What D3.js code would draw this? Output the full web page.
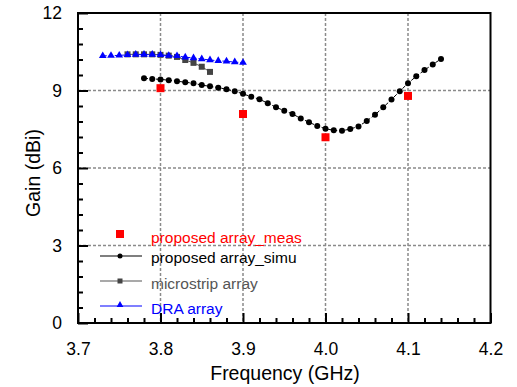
<!DOCTYPE html>
<html><head><meta charset="utf-8">
<script src="https://cdn.jsdelivr.net/npm/d3@7"></script>
<style>body{margin:0;background:#fff}svg{display:block}text{font-family:"Liberation Sans",Arial,sans-serif}</style>
</head><body><svg id="c" width="517" height="387"></svg>
<script>
const xTicks = [3.7, 3.8, 3.9, 4.0, 4.1, 4.2];
const yTicks = [0, 3, 6, 9, 12];
const measFreq = [3.8, 3.9, 4.0, 4.1];
const measGain = [9.09, 8.09, 7.19, 8.79];
const simuFreq = [3.78,3.79,3.80,3.81,3.82,3.83,3.84,3.85,3.86,3.87,3.88,3.89,3.90,3.91,3.92,3.93,3.94,3.95,3.96,3.97,3.98,3.99,4.00,4.01,4.02,4.03,4.04,4.05,4.06,4.07,4.08,4.09,4.10,4.11,4.12,4.13,4.14];
const simuGain = [9.47,9.45,9.43,9.40,9.36,9.32,9.28,9.21,9.16,9.11,9.05,8.97,8.87,8.76,8.66,8.51,8.35,8.22,8.09,7.92,7.77,7.63,7.52,7.46,7.44,7.51,7.61,7.82,8.06,8.35,8.65,8.97,9.28,9.55,9.79,10.01,10.22];
const microFreq = [3.76,3.77,3.78,3.79,3.80,3.81,3.82,3.83,3.84,3.85,3.86];
const microGain = [10.40,10.40,10.40,10.40,10.38,10.35,10.30,10.18,10.07,9.92,9.72];
const draFreq = [3.73,3.74,3.75,3.76,3.77,3.78,3.79,3.80,3.81,3.82,3.83,3.84,3.85,3.86,3.87,3.88,3.89,3.90];
const draGain = [10.34,10.35,10.36,10.38,10.39,10.39,10.39,10.38,10.35,10.34,10.29,10.26,10.22,10.18,10.15,10.13,10.10,10.08];
const seriesNames = ["proposed array_meas","proposed array_simu","microstrip array","DRA array"];

const svg = d3.select("#c");
const L=78,R=490.5,T=13,B=323;
const x = d3.scaleLinear().domain([3.7,4.2]).range([L,R]);
const y = d3.scaleLinear().domain([0,12]).range([B,T]);

// grid
const g = svg.append("g");
[3.8,3.9,4.0,4.1].forEach(v=>g.append("line").attr("x1",x(v)).attr("x2",x(v)).attr("y1",T).attr("y2",B)
  .attr("stroke","#8a8a8a").attr("stroke-width",1.5).attr("stroke-dasharray","3,2"));
[3,6,9].forEach(v=>g.append("line").attr("x1",L).attr("x2",R).attr("y1",y(v)).attr("y2",y(v))
  .attr("stroke","#8a8a8a").attr("stroke-width",1.5).attr("stroke-dasharray","3,2"));

// axes
const xMinor = d3.range(3.72,4.2,0.02).filter(v=>Math.abs(Math.round(v*10)-v*10)>1e-6);
const xa = svg.append("g").attr("transform",`translate(0,${B})`);
xa.call(d3.axisBottom(x).tickValues(xTicks).tickFormat(d3.format(".1f")).tickSizeInner(-10).tickSizeOuter(0).tickPadding(20));
xa.append("g").call(d3.axisBottom(x).tickValues(xMinor).tickFormat("").tickSizeInner(-5).tickSizeOuter(0));
xa.selectAll("path").remove();
xa.selectAll("line").attr("stroke","#000").attr("stroke-width",2);
xa.selectAll("text").attr("font-size",17.5).attr("fill","#000").attr("font-family","Liberation Sans, Arial, sans-serif");

const yMinor = d3.range(0,12.01,0.6).filter(v=>Math.abs(v/3-Math.round(v/3))>1e-6);
const ya = svg.append("g").attr("transform",`translate(${L},0)`);
ya.call(d3.axisLeft(y).tickValues(yTicks).tickFormat(d3.format("d")).tickSizeInner(-10).tickSizeOuter(0).tickPadding(16));
ya.append("g").call(d3.axisLeft(y).tickValues(yMinor).tickFormat("").tickSizeInner(-5).tickSizeOuter(0));
ya.selectAll("path").remove();
ya.selectAll("line").attr("stroke","#000").attr("stroke-width",2);
ya.selectAll("text").attr("font-size",17.5).attr("fill","#000").attr("font-family","Liberation Sans, Arial, sans-serif");

svg.append("rect").attr("x",L).attr("y",T).attr("width",R-L).attr("height",B-T)
  .attr("fill","none").attr("stroke","#000").attr("stroke-width",2);

// titles
svg.append("text").attr("x",285).attr("y",380).attr("text-anchor","middle").attr("font-size",19.5).text("Frequency (GHz)");
svg.append("text").attr("transform",`translate(40,${173}) rotate(-90)`).attr("text-anchor","middle").attr("font-size",19.5).text("Gain (dBi)");

const line = d3.line().x(d=>x(d[0])).y(d=>y(d[1]));
// microstrip
const micro = microFreq.map((f,i)=>[f,microGain[i]]);
svg.append("path").datum(micro).attr("d",line).attr("fill","none").attr("stroke","#555").attr("stroke-width",1);
svg.selectAll(".ms").data(micro).enter().append("rect").attr("x",d=>x(d[0])-3).attr("y",d=>y(d[1])-3).attr("width",6).attr("height",6).attr("fill","#444");
// DRA
const dra = draFreq.map((f,i)=>[f,draGain[i]]);
const tri = d3.symbol().type(d3.symbolTriangle).size(26);
svg.append("path").datum(dra).attr("d",line).attr("fill","none").attr("stroke","#0000ff").attr("stroke-width",1).attr("stroke-dasharray","4,2");
svg.selectAll(".dr").data(dra).enter().append("path").attr("d",tri).attr("transform",d=>`translate(${x(d[0])},${y(d[1])})`).attr("fill","#0000ff");
// simu
const simu = simuFreq.map((f,i)=>[f,simuGain[i]]);
svg.append("path").datum(simu).attr("d",line).attr("fill","none").attr("stroke","#000").attr("stroke-width",1).attr("stroke-dasharray","4,2");
svg.selectAll(".sm").data(simu).enter().append("circle").attr("cx",d=>x(d[0])).attr("cy",d=>y(d[1])).attr("r",3).attr("fill","#000");
// meas
const meas = measFreq.map((f,i)=>[f,measGain[i]]);
svg.selectAll(".me").data(meas).enter().append("rect").attr("x",d=>x(d[0])-4).attr("y",d=>y(d[1])-4).attr("width",8).attr("height",8).attr("fill","#ff0000");

// legend
const lg = svg.append("g");
const lx1=100,lx2=142,tx=151;
lg.append("rect").attr("x",116).attr("y",230).attr("width",8).attr("height",8).attr("fill","#ff0000");
lg.append("text").attr("x",tx).attr("y",243).attr("font-size",15.5).attr("fill","#ff0000").text(seriesNames[0]);
lg.append("line").attr("x1",lx1).attr("x2",lx2).attr("y1",256).attr("y2",256).attr("stroke","#000").attr("stroke-width",1.2);
lg.append("circle").attr("cx",120).attr("cy",256).attr("r",2.5).attr("fill","#000");
lg.append("text").attr("x",tx).attr("y",263).attr("font-size",15.5).attr("fill","#000").text(seriesNames[1]);
lg.append("line").attr("x1",lx1).attr("x2",lx2).attr("y1",281).attr("y2",281).attr("stroke","#555").attr("stroke-width",1.2);
lg.append("rect").attr("x",117.5).attr("y",278.5).attr("width",5).attr("height",5).attr("fill","#444");
lg.append("text").attr("x",tx).attr("y",289).attr("font-size",15.5).attr("fill","#555").text(seriesNames[2]);
lg.append("line").attr("x1",lx1).attr("x2",lx2).attr("y1",306).attr("y2",306).attr("stroke","#0000ff").attr("stroke-width",1.2);
lg.append("path").attr("d",d3.symbol().type(d3.symbolTriangle).size(20)).attr("transform","translate(120,305)").attr("fill","#0000ff");
lg.append("text").attr("x",tx).attr("y",314).attr("font-size",15.5).attr("fill","#0000ff").text(seriesNames[3]);
</script></body></html>
